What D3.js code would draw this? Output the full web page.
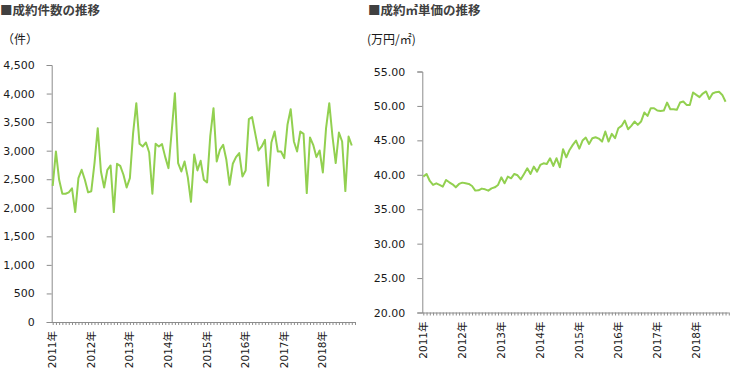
<!DOCTYPE html>
<html>
<head>
<meta charset="utf-8">
<script src="https://cdn.jsdelivr.net/npm/d3@7"></script>
<style>
  body { margin: 0; background: #fff; }
  svg { display: block; }
</style>
</head>
<body>
<div id="vis"></div>
<script>
// monthly values, 2011-01 .. 2018-10
const countValues = [
  2385, 2986, 2490, 2245, 2245, 2270, 2340, 1925, 2520, 2665, 2490, 2270,
  2290, 2782, 3394, 2636, 2356, 2665, 2741, 1925, 2770, 2735, 2578, 2356,
  2520, 3307, 3832, 3120, 3073, 3143, 2968, 2245, 3120, 3073, 3114, 2887,
  2694, 3336, 4007, 2782, 2636, 2811, 2537, 2105, 2933, 2654, 2823, 2490,
  2444, 3260, 3744, 2811, 3015, 3103, 2840, 2403, 2770, 2887, 2957, 2549,
  2654, 3552, 3587, 3295, 3003, 3073, 3190, 2385, 3143, 3336, 2986, 2986,
  2869, 3453, 3727, 3161, 2986, 3336, 3295, 2257, 3231, 3103, 2887, 3003,
  2619, 3394, 3832, 3248, 2782, 3318, 3161, 2292, 3248, 3091
]

const priceValues = [
  39.73, 40.12, 39.10, 38.52, 38.76, 38.52, 38.28, 39.25, 38.91, 38.62, 38.18, 38.67,
  38.86, 38.76, 38.67, 38.37, 37.70, 37.74, 37.99, 37.89, 37.70, 38.03, 38.18, 38.52,
  39.63, 38.76, 39.73, 39.49, 40.12, 39.93, 39.34, 40.12, 40.94, 40.12, 41.19, 40.46,
  41.43, 41.67, 41.57, 42.40, 41.28, 42.40, 41.09, 43.71, 42.54, 43.61, 44.34, 44.97,
  43.80, 44.97, 45.40, 44.48, 45.31, 45.45, 45.26, 44.82, 46.28, 44.82, 45.94, 45.31,
  46.76, 47.10, 47.88, 46.62, 47.10, 47.73, 47.25, 47.73, 49.04, 48.55, 49.67, 49.67,
  49.33, 49.28, 49.33, 50.49, 49.52, 49.52, 49.43, 50.49, 50.64, 50.15, 50.15, 51.95,
  51.60, 51.27, 51.80, 52.10, 51.00, 51.80, 52.00, 52.05, 51.60, 50.60
]

const yearLabels = ["2011年", "2012年", "2013年", "2014年", "2015年", "2016年", "2017年", "2018年"]

const countTicks = [0, 500, 1000, 1500, 2000, 2500, 3000, 3500, 4000, 4500]
const priceTicks = [20, 25, 30, 35, 40, 45, 50, 55]

const width = 730
const height = 377
const lineColor = "#92d050"
const axisColor = "#8c8c8c"
const numFont = "'DejaVu Sans', 'Noto Sans CJK JP', sans-serif"
const jpFont = "'Noto Sans CJK JP', sans-serif"

const svg = d3.select("#vis")
    .append("svg")
    .attr("width", width)
    .attr("height", height)

//draws one panel: title, unit, y axis, month axis and line
function panel(opts) {
    const months = d3.range(opts.values.length + 1)

    const x = d3.scaleLinear()
        .domain([0, months.length - 1])
        .range([opts.left, opts.right])

    const y = d3.scaleLinear()
        .domain(opts.domain)
        .range([opts.bottom, opts.top])

    //title
    svg.append("text")
        .attr("x", opts.titleX)
        .attr("y", 15)
        .attr("font-family", jpFont)
        .attr("font-size", 12.5)
        .attr("font-weight", "bold")
        .attr("fill", "#404040")
        .text(opts.title)

    //unit
    svg.append("text")
        .attr("x", opts.unitX)
        .attr("y", 44)
        .attr("font-family", jpFont)
        .attr("font-size", 12)
        .attr("fill", "#1a1a1a")
        .text(opts.unit)

    //y axis
    const yAxis = svg.append("g")
        .attr("transform", `translate(${opts.left - 1},0)`)
        .call(d3.axisLeft(y)
            .tickValues(opts.ticks)
            .tickFormat(opts.format)
            .tickSizeOuter(0)
            .tickSize(5)
            .tickPadding(12))
    yAxis.selectAll("text")
        .attr("font-family", numFont)
        .attr("font-size", 11)
        .attr("fill", "#1a1a1a")

    //x axis with a tick for every month
    const xAxis = svg.append("g")
        .attr("transform", `translate(0,${opts.bottom})`)
        .call(d3.axisBottom(x)
            .tickValues(months)
            .tickFormat("")
            .tickSizeOuter(0)
            .tickSize(3))
    xAxis.select(".domain").attr("d", `M${opts.left - 1},0.5H${opts.right}`)

    svg.selectAll(null)
        .data(yearLabels)
        .enter()
        .append("text")
        .attr("transform", (d, i) => `translate(${x(i * 12) + 3.5},${opts.bottom + 9}) rotate(-90)`)
        .attr("text-anchor", "end")
        .attr("font-family", numFont)
        .attr("font-size", 10.5)
        .attr("fill", "#1a1a1a")
        .text(d => d)

    svg.selectAll(".domain, .tick line")
        .attr("stroke", axisColor)

    //line
    const line = d3.line()
        .x((d, i) => x(i))
        .y(d => y(d))

    svg.append("path")
        .datum(opts.values)
        .attr("d", line)
        .attr("fill", "none")
        .attr("stroke", lineColor)
        .attr("stroke-width", 2)
        .attr("stroke-linejoin", "round")
}

panel({
    title: "■成約件数の推移",
    unit: "（件）",
    titleX: 0,
    unitX: 2,
    values: countValues,
    domain: [0, 4500],
    ticks: countTicks,
    format: d3.format(","),
    left: 52.7,
    right: 355,
    top: 65,
    bottom: 322
})

panel({
    title: "■成約㎡単価の推移",
    unit: "(万円/㎡)",
    titleX: 368,
    unitX: 367,
    values: priceValues,
    domain: [20, 55],
    ticks: priceTicks,
    format: d3.format(".2f"),
    left: 423.3,
    right: 728.8,
    top: 71.5,
    bottom: 312.5
})
</script>
</body>
</html>
